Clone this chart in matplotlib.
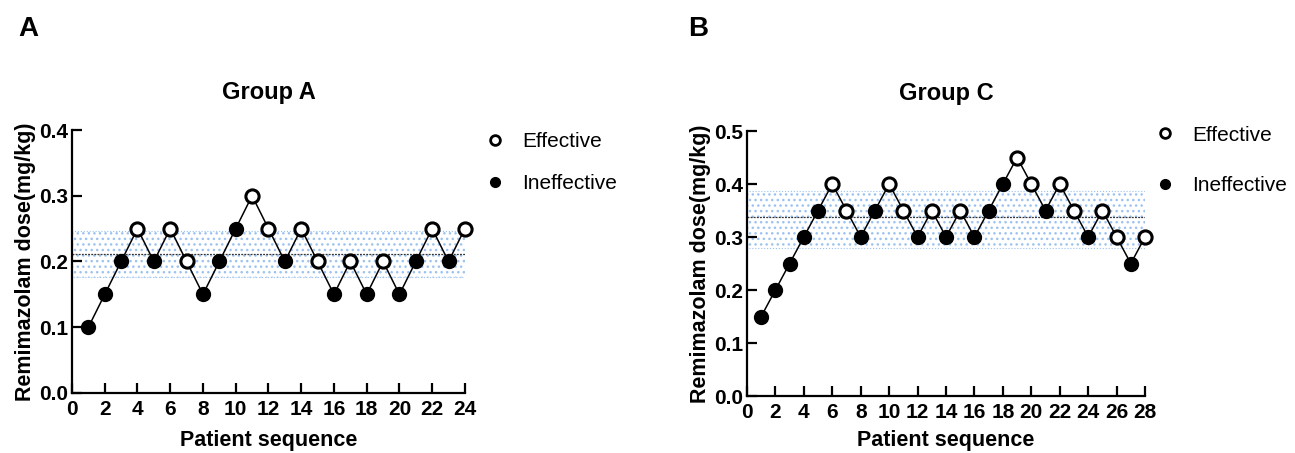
import numpy as np
import matplotlib
matplotlib.use("Agg")
import matplotlib.pyplot as plt
from matplotlib.lines import Line2D

plt.rcParams["font.family"] = ["Liberation Sans", "DejaVu Sans"]
plt.rcParams["hatch.color"] = "#9cc2f0"
plt.rcParams["hatch.linewidth"] = 1.0

# Group A (panel A)
seq_a = list(range(1, 25))
dose_a = [0.10, 0.15, 0.20, 0.25, 0.20, 0.25, 0.20, 0.15, 0.20, 0.25, 0.30, 0.25,
          0.20, 0.25, 0.20, 0.15, 0.20, 0.15, 0.20, 0.15, 0.20, 0.25, 0.20, 0.25]
eff_a = [0, 0, 0, 1, 0, 1, 1, 0, 0, 0, 1, 1,
         0, 1, 1, 0, 1, 0, 1, 0, 0, 1, 0, 1]
mean_a, lo_a, hi_a = 0.212, 0.177, 0.247

# Group C (panel B)
seq_c = list(range(1, 29))
dose_c = [0.15, 0.20, 0.25, 0.30, 0.35, 0.40, 0.35, 0.30, 0.35, 0.40, 0.35, 0.30,
          0.35, 0.30, 0.35, 0.30, 0.35, 0.40, 0.45, 0.40, 0.35, 0.40, 0.35, 0.30,
          0.35, 0.30, 0.25, 0.30]
eff_c = [0, 0, 0, 0, 0, 1, 1, 0, 0, 1, 1, 0,
         1, 0, 1, 0, 0, 0, 1, 1, 0, 1, 1, 0,
         1, 1, 0, 1]
mean_c, lo_c, hi_c = 0.338, 0.280, 0.386

fig = plt.figure(figsize=(12.95, 4.53), dpi=100)


def panel(rect, seq, dose, eff, mean, lo, hi, ymax, title, band_end, xpad):
    ax = fig.add_axes(rect)
    seq = np.array(seq)
    dose = np.array(dose)
    eff = np.array(eff, dtype=bool)
    # band of the estimate
    ax.fill_between([0, band_end], lo, hi, facecolor="none", edgecolor="#9cc2f0",
                    hatch="...", linewidth=0.8, linestyle=":", zorder=1)
    ax.plot([0, band_end], [mean, mean], color="#333333", lw=0.9, ls=(0, (1.5, 1)), zorder=2)
    ax.plot(seq, dose, color="black", lw=1.1, zorder=3, clip_on=False)
    ax.plot(seq[eff], dose[eff], "o", ms=9.5, mfc="white", mec="black", mew=2.2,
            ls="none", zorder=4, clip_on=False)
    ax.plot(seq[~eff], dose[~eff], "o", ms=9.5, mfc="black", mec="black", mew=1.5,
            ls="none", zorder=4, clip_on=False)
    ax.set_xlim(0, seq[-1])
    ax.set_ylim(0, ymax)
    ax.set_xticks(np.arange(0, seq[-1] + 1, 2))
    ax.set_yticks(np.arange(0, ymax + 0.001, 0.1))
    ax.set_yticklabels([f"{v:.1f}" for v in np.arange(0, ymax + 0.001, 0.1)])
    for s in ["top", "right"]:
        ax.spines[s].set_visible(False)
    for s in ["left", "bottom"]:
        ax.spines[s].set_linewidth(1.6)
    ax.tick_params(direction="in", length=7, width=1.6, labelsize=15, pad=3)
    ax.tick_params(axis="x", pad=5)
    for lab in ax.get_xticklabels() + ax.get_yticklabels():
        lab.set_fontweight("bold")
    ax.set_xlabel("Patient sequence", fontsize=15.5, fontweight="bold", labelpad=xpad)
    ax.set_ylabel("Remimazolam dose(mg/kg)", fontsize=15.5, fontweight="bold", labelpad=2)
    ax.set_title(title, fontsize=17, fontweight="bold", pad=22)
    return ax


ax_a = panel([0.0556, 0.1325, 0.3034, 0.5805], seq_a, dose_a, eff_a,
             mean_a, lo_a, hi_a, 0.4, "Group A", 24, 8)
ax_c = panel([0.5768, 0.1258, 0.3074, 0.5850], seq_c, dose_c, eff_c,
             mean_c, lo_c, hi_c, 0.5, "Group C", 28.2, 6)

handles = [
    Line2D([], [], marker="o", ls="none", ms=7, mfc="white", mec="black", mew=2.0),
    Line2D([], [], marker="o", ls="none", ms=7, mfc="black", mec="black"),
]
labels = ["Effective", "Ineffective"]
for x0, y0, sp in [(0.368, 0.726, 1.1), (0.885, 0.741, 1.5)]:
    fig.legend(handles, labels, loc="upper left", bbox_to_anchor=(x0, y0),
               frameon=False, fontsize=15, handlelength=1.0, handletextpad=0.8,
               labelspacing=sp, borderaxespad=0)

fig.text(0.014, 0.935, "A", fontsize=20, fontweight="bold", va="center")
fig.text(0.531, 0.935, "B", fontsize=20, fontweight="bold", va="center")

fig.savefig("out.png", dpi=100)
